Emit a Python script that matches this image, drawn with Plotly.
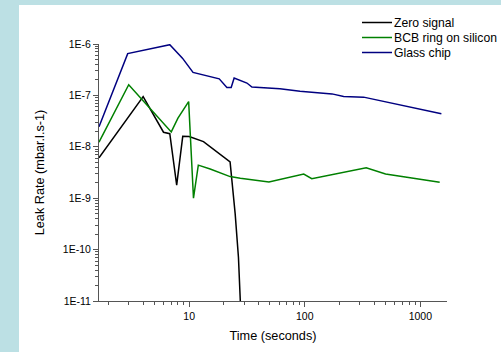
import math
import plotly.graph_objects as go

# ---- data ----
t_zero = [1.66, 4.0, 6.0, 6.8, 7.8, 8.8, 10.0, 13.3, 22.6, 23.1, 25.0, 26.7, 27.7]
v_zero = [6.1e-9, 9.5e-8, 1.92e-8, 1.8e-8, 1.8e-9, 1.6e-8, 1.58e-8, 1.26e-8,
          5.1e-9, 3.0e-9, 5.0e-10, 7.0e-11, 1.0e-11]

t_bcb = [1.66, 3.0, 7.0, 8.0, 9.9, 10.9, 12.0, 15.2, 22.6, 27.7, 49, 98, 115, 340, 500, 1470]
v_bcb = [1.23e-8, 1.61e-7, 1.95e-8, 3.6e-8, 7.6e-8, 1.0e-9, 4.4e-9, 3.7e-9, 2.63e-9,
         2.44e-9, 2.07e-9, 2.95e-9, 2.4e-9, 3.9e-9, 2.95e-9, 2.04e-9]

t_glass = [1.66, 2.94, 6.8, 8.75, 10.8, 18.2, 21.2, 23.1, 24.5, 31.6, 34.9, 61, 91,
           172, 217, 323, 1520]
v_glass = [2.45e-8, 6.5e-7, 9.7e-7, 5.3e-7, 2.8e-7, 2.1e-7, 1.43e-7, 1.43e-7, 2.17e-7,
           1.74e-7, 1.45e-7, 1.35e-7, 1.21e-7, 1.07e-7, 9.5e-8, 9.25e-8, 4.4e-8]

series_names = ["Zero signal", "BCB ring on silicon", "Glass chip"]
series_colors = ["#000000", "#008000", "#000080"]

x_ticks = [10, 100, 1000]
x_ticktext = ["10", "100", "1000"]
y_ticks = [1e-6, 1e-7, 1e-8, 1e-9, 1e-10, 1e-11]
y_ticktext = ["1E-6", "1E-7", "1E-8", "1E-9", "1E-10", "1E-11"]

FONT = "Liberation Sans, Arial, sans-serif"
AXC = "#555555"

# plot area geometry (pixels)
L, R, T, B = 99, 54, 44, 51
W, H = 501, 352
PW, PH = W - L - R, H - T - B


def px(x):
    return (x - L) / PW


def py(y):
    return (H - B - y) / PH


fig = go.Figure()
for t, v, n, c in zip([t_zero, t_bcb, t_glass], [v_zero, v_bcb, v_glass],
                      series_names, series_colors):
    fig.add_trace(go.Scatter(x=t, y=v, mode="lines", name=n, showlegend=False,
                             line=dict(color=c, width=1.5)))

x_minor = [m * 10 ** d for d in range(0, 4) for m in range(2, 10)]
y_minor = [m * 10.0 ** d for d in range(-11, -6) for m in range(2, 10)]

shapes = [dict(type="rect", xref="paper", yref="paper",
               x0=px(19), x1=px(W + 5), y0=py(H + 5), y1=py(5),
               fillcolor="white", line=dict(width=0), layer="below")]
annotations = []
for i, (n, c) in enumerate(zip(series_names, series_colors)):
    yy = 22.5 + 15 * i
    shapes.append(dict(type="line", xref="paper", yref="paper",
                       x0=px(362), x1=px(392), y0=py(yy), y1=py(yy),
                       line=dict(color=c, width=1.5)))
    annotations.append(dict(xref="paper", yref="paper", x=px(392), y=py(yy),
                            text=n, showarrow=False, xanchor="left", yanchor="middle",
                            font=dict(size=12.2, color="#000000")))

fig.update_layout(
    width=W, height=H,
    margin=dict(l=L, r=R, t=T, b=B),
    paper_bgcolor="#bce0e4",
    plot_bgcolor="rgba(0,0,0,0)",
    font=dict(family=FONT, size=10.5, color="#000000"),
    showlegend=False,
    shapes=shapes,
    annotations=annotations,
)

fig.update_xaxes(
    type="log", range=[math.log10(1.66), math.log10(1700)],
    showgrid=False, zeroline=False, showline=True, linecolor=AXC, linewidth=1,
    ticks="outside", ticklen=5, tickcolor=AXC, tickwidth=1,
    tickmode="array", tickvals=x_ticks, ticktext=x_ticktext,
    minor=dict(tickmode="array", tickvals=x_minor, ticks="outside",
               ticklen=3, tickcolor=AXC, showgrid=False),
    title=dict(text="Time (seconds)", font=dict(size=12.7), standoff=10),
)
fig.update_yaxes(
    type="log", range=[-11, -6],
    showgrid=False, zeroline=False, showline=True, linecolor=AXC, linewidth=1,
    ticks="outside", ticklen=5, tickcolor=AXC, tickwidth=1,
    tickmode="array", tickvals=y_ticks, ticktext=y_ticktext,
    minor=dict(tickmode="array", tickvals=y_minor, ticks="outside",
               ticklen=3, tickcolor=AXC, showgrid=False),
    title=dict(text="Leak Rate (mbar.l.s-1)", font=dict(size=12.7), standoff=15),
)

fig.write_html("out.html")
